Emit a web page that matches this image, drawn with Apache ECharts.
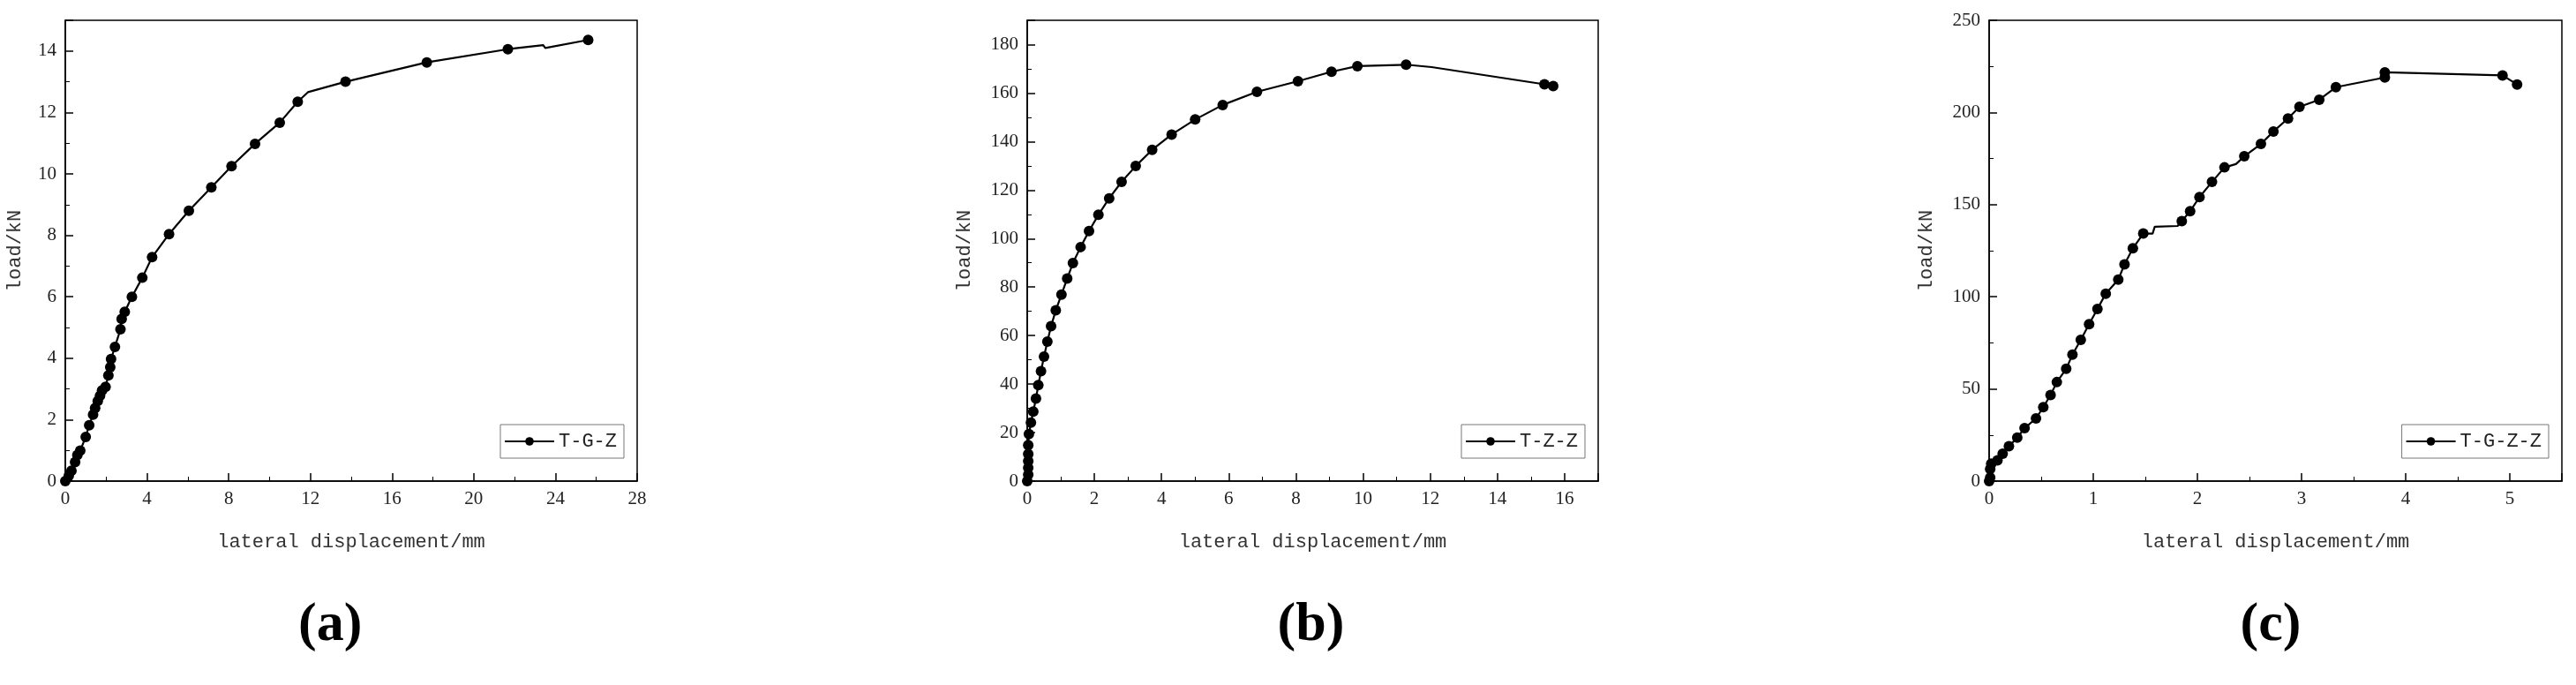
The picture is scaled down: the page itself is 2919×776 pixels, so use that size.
<!DOCTYPE html>
<html>
<head>
<meta charset="utf-8">
<script src="https://cdn.jsdelivr.net/npm/echarts@6/dist/echarts.min.js"></script>
<style>html,body{margin:0;background:#fff}#main{width:2919px;height:776px}</style>
</head>
<body>
<div id="main"></div>
<script>
'use strict';

// (a) T-G-Z  [displacement mm, load kN]; third item = line vertex without marker
var dataA = [[0,0],[0.17,0.17],[0.3,0.34],[0.48,0.62],[0.59,0.85],[0.73,0.99],[1.0,1.44],[1.17,1.82],[1.36,2.16],
    [1.46,2.38],[1.59,2.61],[1.7,2.78],[1.8,2.95],[1.97,3.07],[2.11,3.44],[2.2,3.71],[2.24,3.97],[2.43,4.37],
    [2.7,4.94],[2.76,5.28],[2.91,5.51],[3.26,6.0],[3.77,6.62],[4.25,7.29],[5.08,8.04],[6.05,8.8],[7.15,9.56],
    [8.14,10.25],[9.29,10.98],[10.5,11.67],[11.38,12.35],[11.88,12.66,0],[13.72,13.0],[17.7,13.63],[21.67,14.06],
    [23.4,14.19,0],[23.5,14.1,0],[25.6,14.36]];
// (b) T-Z-Z
var dataB = [[0,0],[0.03,2.6],[0.03,5.5],[0.03,8.3],[0.03,11.2],[0.03,14.8],[0.05,19.4],[0.11,24.1],[0.18,28.7],
    [0.26,34.0],[0.33,39.6],[0.41,45.3],[0.5,51.3],[0.6,57.5],[0.71,63.9],[0.85,70.4],[1.02,76.9],[1.19,83.5],
    [1.36,89.9],[1.59,96.5],[1.84,103.1],[2.12,109.8],[2.44,116.6],[2.81,123.4],[3.23,129.9],[3.72,136.6],
    [4.3,142.9],[5.0,149.1],[5.82,155.1],[6.84,160.5],[8.06,164.9],[9.06,168.8],[9.83,171.1],[11.28,171.7],
    [12.04,170.7,0],[15.4,163.6],[15.66,162.9]];
// (c) T-G-Z-Z
var dataC = [[0,0],[0.01,1.9],[0.01,6.6],[0.02,9.5],[0.08,11.3],[0.13,14.8],[0.19,18.9],[0.27,23.6],[0.34,28.7],
    [0.45,34.0],[0.52,40.1],[0.59,46.7],[0.65,53.7],[0.74,60.9],[0.8,68.6],[0.88,76.6],[0.96,85.1],[1.04,93.4],
    [1.12,101.7],[1.24,109.3],[1.3,117.6],[1.38,126.3],[1.48,134.3],[1.57,134.3,0],[1.59,138,0],[1.81,138.4,0],
    [1.85,141.1],[1.93,146.4],[2.02,154.1],[2.14,162.3],[2.26,170.2],[2.37,172,0],[2.45,176.2],[2.61,182.9],
    [2.73,189.7],[2.87,196.7],[2.98,203.1],[3.17,206.9],[3.33,213.7],[3.8,219],[3.8,221.8],[4.93,220.1],[5.07,215.2]];

var names = ['T-G-Z', 'T-Z-Z', 'T-G-Z-Z'];
var panelLabels = ['(a)', '(b)', '(c)'];
var xMax = [28, 17, 5.5], xStep = [4, 2, 1];
var yMax = [15, 190, 250], yStep = [2, 20, 50];

var grids = [
    {left: 74, top: 23, width: 648, height: 522},
    {left: 1164, top: 23, width: 647, height: 522},
    {left: 2254, top: 23, width: 649, height: 522}
];
var labelFont = 'Liberation Serif';
var nameFont = 'Liberation Mono';

function toItems(arr) {
    return arr.map(function(p) {
        if (p.length > 2) { return {value: [p[0], p[1]], symbol: 'none'}; }
        return {value: p};
    });
}

var option = {
    backgroundColor: '#fff',
    animation: false,
    grid: [], xAxis: [], yAxis: [], series: [], legend: [], graphic: []
};
var all = [dataA, dataB, dataC];
grids.forEach(function(g, i) {
    option.grid.push({left: g.left, top: g.top, width: g.width, height: g.height,
        show: true, borderColor: '#000', borderWidth: 1.5});
    var common = {
        gridIndex: i, type: 'value', min: 0,
        axisLine: {show: true, onZero: false, lineStyle: {color: '#000', width: 1.5}},
        axisTick: {show: true, inside: true, length: 9, lineStyle: {color: '#000', width: 1.5}},
        minorTick: {show: true, splitNumber: 2, length: 5, lineStyle: {color: '#000'}},
        splitLine: {show: false},
        axisLabel: {color: '#222', fontFamily: labelFont, fontSize: 21, margin: 10},
        nameLocation: 'middle',
        nameTextStyle: {color: '#333', fontFamily: nameFont, fontSize: 22}
    };
    option.xAxis.push(Object.assign({}, common, {max: xMax[i], interval: xStep[i],
        name: 'lateral displacement/mm', nameGap: 58,
        axisLabel: Object.assign({}, common.axisLabel, {showMaxLabel: xMax[i] % xStep[i] === 0})}));
    option.yAxis.push(Object.assign({}, common, {max: yMax[i], interval: yStep[i],
        name: 'load/kN', nameGap: i === 0 ? 46 : 60,
        axisLabel: Object.assign({}, common.axisLabel, {showMaxLabel: yMax[i] % yStep[i] === 0})}));
    option.series.push({
        name: names[i], type: 'line', xAxisIndex: i, yAxisIndex: i,
        data: toItems(all[i]), symbol: 'circle', symbolSize: 12,
        itemStyle: {color: '#000'}, lineStyle: {color: '#000', width: 2.2}
    });
    option.legend.push({
        data: [names[i]], right: 2919 - (g.left + g.width) + 15, top: g.top + g.height - 64,
        orient: 'vertical', borderColor: '#777', borderWidth: 1, padding: [8, 8, 8, 4],
        itemWidth: 56, itemHeight: 12, itemGap: 0,
        textStyle: {fontFamily: nameFont, fontSize: 22, color: '#222'}
    });
    option.graphic.push({
        type: 'text', left: g.left + g.width / 2 - 40 + (i === 0 ? -20 : 0), top: 678,
        style: {text: panelLabels[i], font: 'bold 62px "Liberation Serif"', fill: '#000'}
    });
});

var chart = echarts.init(document.getElementById('main'));
chart.setOption(option);
</script>
</body>
</html>
